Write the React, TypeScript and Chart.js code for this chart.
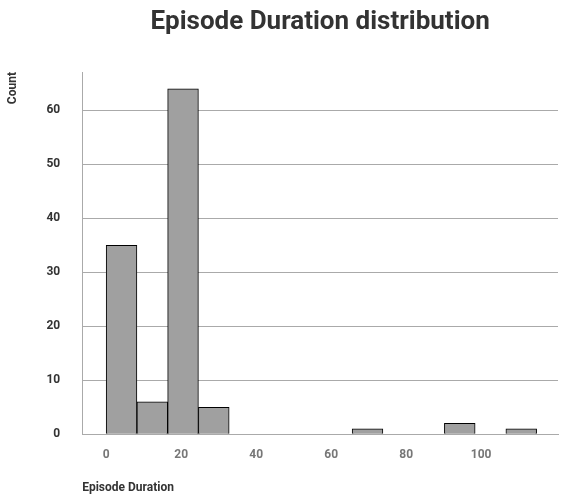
import React, { useEffect, useRef } from 'react';
import Chart from 'chart.js/auto';

const binWidth = 8.2;
const binStarts = [0, 8.2, 16.4, 24.6, 32.8, 41, 49.2, 57.4, 65.6, 73.8, 82, 90.2, 98.4, 106.6];
const counts = [35, 6, 64, 5, 0, 0, 0, 0, 1, 0, 0, 2, 0, 1];
const xTicks = [0, 20, 40, 60, 80, 100];
const yTicks = [0, 10, 20, 30, 40, 50, 60];

const titlePlugin = {
    id: 'centerTitle',
    afterDraw(chart: any) {
        const { ctx, chartArea } = chart;
        ctx.save();
        ctx.fillStyle = '#333333';
        ctx.font = 'bold 26px Roboto';
        ctx.textAlign = 'center';
        ctx.textBaseline = 'middle';
        ctx.fillText('Episode Duration distribution', (chartArea.left + chartArea.right) / 2, 22);
        ctx.restore();
    },
};

export default function App() {
    const canvasRef = useRef<HTMLCanvasElement>(null);

    useEffect(() => {
        if (!canvasRef.current) return;
        const chart = new Chart(canvasRef.current, {
            type: 'bar',
            data: {
                datasets: [{
                    data: binStarts.map((s, i) => ({ x: s + binWidth / 2, y: counts[i] })),
                    backgroundColor: '#a0a0a0',
                    borderColor: '#000000',
                    borderWidth: 1,
                    barPercentage: 1,
                    categoryPercentage: 1,
                }],
            },
            options: {
                animation: false,
                responsive: true,
                maintainAspectRatio: false,
                layout: { padding: { top: 72, right: 11, left: 6, bottom: 4 } },
                plugins: { legend: { display: false }, tooltip: { enabled: false } },
                scales: {
                    x: {
                        type: 'linear',
                        offset: false,
                        min: -6.4,
                        max: 120.5,
                        afterBuildTicks: (axis: any) => { axis.ticks = xTicks.map(v => ({ value: v })); },
                        grid: { display: false },
                        border: { color: '#aaaaaa' },
                        ticks: { color: '#777777', font: { family: 'Roboto', size: 12, weight: 'bold' }, padding: 6 },
                        title: { display: true, text: 'Episode Duration', align: 'start', color: '#333333', font: { family: 'Roboto', size: 12, weight: 'bold' }, padding: { top: 12 } },
                    },
                    y: {
                        min: 0,
                        max: 67.1,
                        afterBuildTicks: (axis: any) => { axis.ticks = yTicks.map(v => ({ value: v })); },
                        ticks: { color: '#333333', font: { family: 'Roboto', size: 12, weight: 'bold' }, padding: 22 },
                        grid: { color: '#aaaaaa', drawTicks: false },
                        border: { color: '#aaaaaa' },
                        title: { display: true, text: 'Count', align: 'end', color: '#333333', font: { family: 'Roboto', size: 12, weight: 'bold' }, padding: { top: 0, bottom: 4 } },
                    },
                },
            },
            plugins: [titlePlugin],
        });
        return () => chart.destroy();
    }, []);

    return (
        <div style={{ position: 'fixed', left: 0, top: 0, width: 569, height: 503, background: '#fff' }}>
            <canvas ref={canvasRef}></canvas>
        </div>
    );
}
